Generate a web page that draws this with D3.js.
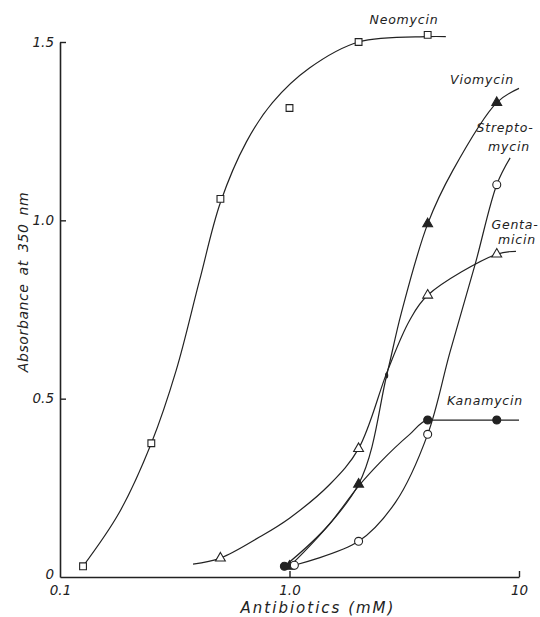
<!DOCTYPE html>
<html>
<head>
<meta charset="utf-8">
<script src="https://cdn.jsdelivr.net/npm/d3@7"></script>
<style>
  body { margin: 0; background: #fff; }
  svg text { font-family: "DejaVu Sans", sans-serif; font-style: italic; fill: #222; }
</style>
</head>
<body>
<svg></svg>
<script>
let width = 540, height = 617;

// values: concentration (mM) and absorbance at 350 nm
var xTicks = [0.1, 1, 10]
var xTickLabels = ["0.1", "1.0", "10"]
var yTicks = [0, 0.5, 1.0, 1.5]
var yTickLabels = ["0", "0.5", "1.0", "1.5"]

// measured points
var neoX = [0.126, 0.25, 0.5, 1.0, 2.0, 4.0]
var neoY = [0.03, 0.375, 1.06, 1.315, 1.50, 1.52]
var vioX = [1.0, 2.0, 4.0, 8.0]
var vioY = [0.03, 0.26, 0.99, 1.33]
var vioDotX = [2.65]
var vioDotY = [0.565]
var strX = [1.05, 2.0, 4.0, 8.0]
var strY = [0.033, 0.10, 0.40, 1.10]
var genX = [0.5, 2.0, 4.0, 8.0]
var genY = [0.053, 0.36, 0.79, 0.905]
var kanX = [0.95, 4.0, 8.0]
var kanY = [0.03, 0.44, 0.44]

// hand-drawn fitted curves
var neoCurveX = [0.126, 0.181, 0.25, 0.321, 0.405, 0.5, 0.649, 0.843, 1.222, 2.0, 4.0, 4.8]
var neoCurveY = [0.03, 0.18, 0.375, 0.58, 0.83, 1.05, 1.22, 1.33, 1.427, 1.50, 1.515, 1.515]
var vioCurveX = [1.0, 2.0, 2.65, 3.07, 4.0, 5.15, 8.0, 10.0]
var vioCurveY = [0.03, 0.26, 0.565, 0.74, 0.99, 1.14, 1.33, 1.37]
var strCurveX = [1.05, 2.0, 2.9, 4.0, 5.0, 6.43, 8.0, 9.15]
var strCurveY = [0.033, 0.10, 0.21, 0.40, 0.63, 0.875, 1.10, 1.175]
var genCurveX = [0.38, 0.5, 0.74, 1.0, 1.5, 2.0, 2.68, 3.34, 4.0, 8.0, 9.7]
var genCurveY = [0.036, 0.053, 0.112, 0.165, 0.26, 0.36, 0.58, 0.72, 0.79, 0.905, 0.913]
var kanCurveX = [0.95, 1.5, 2.0, 2.47, 3.34, 4.0, 8.0, 10.0]
var kanCurveY = [0.03, 0.15, 0.255, 0.32, 0.40, 0.44, 0.44, 0.44]

let svg = d3.select("svg")
    .attr("width", width)
    .attr("height", height)

var x = d3.scaleLog().domain([0.1, 10]).range([60, 519])
var y = d3.scaleLinear().domain([0, 1.5]).range([577, 42])

// axes
var yAxis = d3.axisLeft(y).tickValues(yTicks)
    .tickFormat((d, i) => yTickLabels[i]).tickSizeInner(-6).tickSizeOuter(0).tickPadding(6)
var xAxis = d3.axisBottom(x).tickValues(xTicks)
    .tickFormat((d, i) => xTickLabels[i]).tickSizeInner(-6).tickSizeOuter(0).tickPadding(8)

let gy = svg.append("g").attr("transform", "translate(60,0)").call(yAxis)
let gx = svg.append("g").attr("transform", "translate(0,577)").call(xAxis)
;[gx, gy].forEach(g => {
    g.select(".domain").attr("stroke", "#222").attr("stroke-width", 1.6)
    g.selectAll(".tick line").attr("stroke", "#222").attr("stroke-width", 1.4)
    g.selectAll(".tick text").attr("font-size", 13.5).attr("fill", "#222")
        .style("font-family", "DejaVu Sans").style("font-style", "italic")
})
gy.selectAll(".tick").filter(d => d == 0).select("line").remove()
gy.selectAll(".tick").filter(d => d == 0).select("text").attr("dy", "0.1em")
gx.selectAll(".tick").filter(d => d == 0.1).select("line").remove()

svg.append("text")
    .attr("transform", "translate(28,282) rotate(-90)")
    .attr("text-anchor", "middle")
    .attr("font-size", 14)
    .style("letter-spacing", "0.6px")
    .style("word-spacing", "3px")
    .text("Absorbance at 350 nm")

svg.append("text")
    .attr("x", 318).attr("y", 613)
    .attr("text-anchor", "middle")
    .attr("font-size", 15)
    .style("letter-spacing", "2px")
    .text("Antibiotics (mM)")

let smooth = d3.line().x(d => x(d[0])).y(d => y(d[1])).curve(d3.curveCatmullRom.alpha(0.5))
let bend = d3.line().x(d => x(d[0])).y(d => y(d[1])).curve(d3.curveMonotoneX)

var series = [
    {cx: neoCurveX, cy: neoCurveY, px: neoX, py: neoY, shape: "square", filled: false, line: smooth},
    {cx: vioCurveX, cy: vioCurveY, px: vioX, py: vioY, shape: "triangle", filled: true, line: smooth},
    {cx: strCurveX, cy: strCurveY, px: strX, py: strY, shape: "circle", filled: false, line: smooth},
    {cx: genCurveX, cy: genCurveY, px: genX, py: genY, shape: "triangle", filled: false, line: smooth},
    {cx: kanCurveX, cy: kanCurveY, px: kanX, py: kanY, shape: "circle", filled: true, line: bend}
]

var symbols = {
    square: d3.symbol().type(d3.symbolSquare).size(46),
    triangle: d3.symbol().type(d3.symbolTriangle).size(42),
    circle: d3.symbol().type(d3.symbolCircle).size(50)
}

series.forEach(s => {
    svg.append("path")
        .datum(s.cx.map((v, i) => [v, s.cy[i]]))
        .attr("d", s.line)
        .attr("fill", "none")
        .attr("stroke", "#222")
        .attr("stroke-width", 1.2)
})

series.forEach(s => {
    svg.append("g")
        .selectAll("path")
        .data(s.px.map((v, i) => [v, s.py[i]]))
        .enter()
        .append("path")
        .attr("d", symbols[s.shape])
        .attr("transform", d => "translate(" + x(d[0]) + "," + y(d[1]) + ")")
        .attr("fill", s.filled ? "#222" : "#fff")
        .attr("stroke", "#222")
        .attr("stroke-width", 1.1)
})

// small ink mark on the viomycin curve
svg.selectAll(".dot")
    .data(vioDotX.map((v, i) => [v, vioDotY[i]]))
    .enter()
    .append("ellipse")
    .attr("cx", d => x(d[0])).attr("cy", d => y(d[1]))
    .attr("rx", 1.6).attr("ry", 3)
    .attr("fill", "#222")

// series labels
var labels = [
    {lines: ["Neomycin"], lx: [404], ly: [24]},
    {lines: ["Viomycin"], lx: [482], ly: [84]},
    {lines: ["Strepto-", "mycin"], lx: [505, 509], ly: [132, 151]},
    {lines: ["Genta-", "micin"], lx: [515, 517], ly: [229, 244]},
    {lines: ["Kanamycin"], lx: [485], ly: [405]}
]
labels.forEach(l => {
    l.lines.forEach((t, i) => {
        svg.append("text")
            .attr("x", l.lx[i]).attr("y", l.ly[i])
            .attr("text-anchor", "middle")
            .attr("font-size", 12.5)
            .style("letter-spacing", "0.8px")
            .text(t)
    })
})
</script>
</body>
</html>
